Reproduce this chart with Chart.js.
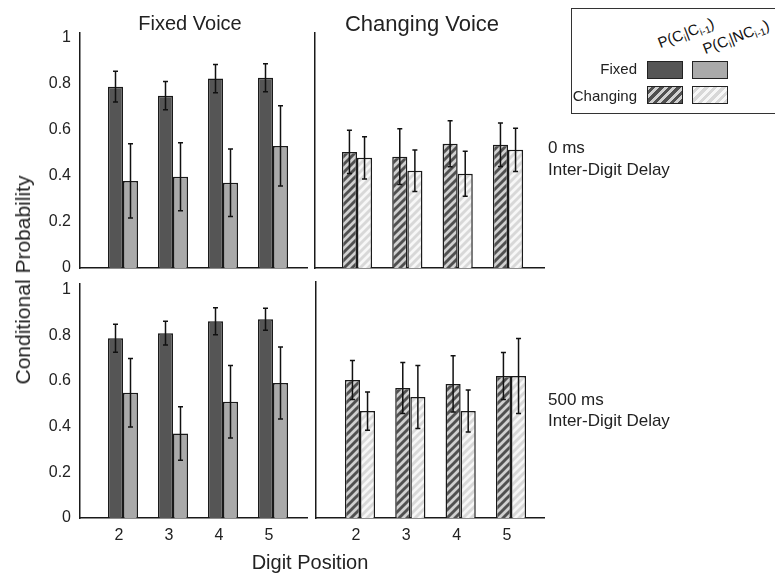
<!DOCTYPE html>
<html>
<head>
<meta charset="utf-8">
<script src="https://cdn.jsdelivr.net/npm/chart.js@4/dist/chart.umd.min.js"></script>
<style>
    body { margin: 0; background: #fff; }
    #page { position: relative; width: 775px; height: 576px; overflow: hidden; font-family: "Liberation Sans", Arial, sans-serif; color: #222; }
    canvas { position: absolute; }
    .txt { position: absolute; white-space: nowrap; }
    .swatch { position: absolute; width: 34px; height: 16px; border: 1.5px solid #222; }
    #legend { position: absolute; left: 571px; top: 8px; width: 220px; height: 104px; border: 1px solid #333; }
    .rot { position: absolute; font-size: 15px; color: #111; transform-origin: 0 100%; transform: rotate(-21deg); white-space: nowrap; }
    .rot sub { font-size: 10px; vertical-align: -3px; }
</style>
</head>
<body>
<div id="page">
    <canvas id="top-left" width="320" height="290" style="left:0;top:0"></canvas>
    <canvas id="top-right" width="260" height="290" style="left:300px;top:0"></canvas>
    <canvas id="bottom-left" width="320" height="311" style="left:0;top:265px"></canvas>
    <canvas id="bottom-right" width="260" height="311" style="left:300px;top:265px"></canvas>

    <div class="txt" style="left:190px;top:12px;font-size:20px;transform:translateX(-50%)">Fixed Voice</div>
    <div class="txt" style="left:422px;top:11px;font-size:22px;transform:translateX(-50%)">Changing Voice</div>
    <div class="txt" style="left:23px;top:280px;font-size:21px;transform:translate(-50%,-50%) rotate(-90deg)">Conditional Probability</div>
    <div class="txt" style="left:310px;top:551px;font-size:20px;transform:translateX(-50%)">Digit Position</div>
    <div class="txt" style="left:548px;top:138px;font-size:17px">0 ms</div>
    <div class="txt" style="left:548px;top:160px;font-size:17px">Inter-Digit Delay</div>
    <div class="txt" style="left:548px;top:390px;font-size:17px">500 ms</div>
    <div class="txt" style="left:548px;top:411px;font-size:17px">Inter-Digit Delay</div>

    <div id="legend"></div>
    <div class="rot" style="left:662px;top:34px">P(C<sub>i</sub>|C<sub>i-1</sub>)</div>
    <div class="rot" style="left:707px;top:40px">P(C<sub>i</sub>|NC<sub>i-1</sub>)</div>
    <div class="txt" style="right:138px;top:60px;font-size:15px">Fixed</div>
    <div class="txt" style="right:138px;top:87px;font-size:15px">Changing</div>
    <div class="swatch" style="left:647px;top:61px;background:#555"></div>
    <div class="swatch" style="left:692px;top:61px;background:#aaa"></div>
    <div class="swatch" style="left:647px;top:86px;background:repeating-linear-gradient(-45deg,#505050 0 3px,#d0d0d0 3px 6px)"></div>
    <div class="swatch" style="left:692px;top:86px;background:repeating-linear-gradient(-45deg,#d8d8d8 0 3px,#f7f7f7 3px 6px)"></div>
</div>

<script>
const DIGITS = [2, 3, 4, 5];
const Y_TICKS = [0, 0.2, 0.4, 0.6, 0.8, 1];

// 0 ms inter-digit delay
const FIX0_CC = [0.787, 0.748, 0.822, 0.826];
const FIX0_CC_ERR = [0.067, 0.061, 0.061, 0.061];
const FIX0_NC = [0.378, 0.396, 0.370, 0.530];
const FIX0_NC_ERR = [0.161, 0.148, 0.146, 0.174];
const CHG0_CC = [0.504, 0.483, 0.539, 0.535];
const CHG0_CC_ERR = [0.094, 0.121, 0.100, 0.094];
const CHG0_NC = [0.478, 0.422, 0.409, 0.513];
const CHG0_NC_ERR = [0.092, 0.090, 0.098, 0.094];

// 500 ms inter-digit delay
const FIX500_CC = [0.787, 0.809, 0.861, 0.870];
const FIX500_CC_ERR = [0.061, 0.052, 0.059, 0.048];
const FIX500_NC = [0.548, 0.370, 0.509, 0.591];
const FIX500_NC_ERR = [0.150, 0.117, 0.159, 0.158];
const CHG500_CC = [0.600, 0.565, 0.583, 0.617];
const CHG500_CC_ERR = [0.085, 0.111, 0.122, 0.102];
const CHG500_NC = [0.465, 0.526, 0.465, 0.617];
const CHG500_NC_ERR = [0.083, 0.137, 0.091, 0.163];

const FONTCOLOR = "#222";
const DARK = "#555";
const LIGHT = "#aaa";

Chart.defaults.font.family = '"Liberation Sans", Arial, sans-serif';
Chart.defaults.color = FONTCOLOR;

const errorBars = {
    id: "errorBars",
    afterDatasetsDraw(chart) {
        const ctx = chart.ctx;
        const y = chart.scales.y;
        ctx.save();
        ctx.strokeStyle = "#111";
        ctx.lineWidth = 1.5;
        chart.data.datasets.forEach((ds, di) => {
            chart.getDatasetMeta(di).data.forEach((bar, i) => {
                const v = ds.data[i].y;
                const e = ds.errors[i];
                const top = y.getPixelForValue(v + e);
                const bot = y.getPixelForValue(v - e);
                ctx.beginPath();
                ctx.moveTo(bar.x, top); ctx.lineTo(bar.x, bot);
                ctx.moveTo(bar.x - 2.5, top); ctx.lineTo(bar.x + 2.5, top);
                ctx.moveTo(bar.x - 2.5, bot); ctx.lineTo(bar.x + 2.5, bot);
                ctx.stroke();
            });
        });
        ctx.restore();
    }
};

function makeHatch(bg, fg) {
    const tile = document.createElement("canvas");
    tile.width = 8;
    tile.height = 8;
    const t = tile.getContext("2d");
    t.fillStyle = bg;
    t.fillRect(0, 0, 8, 8);
    t.strokeStyle = fg;
    t.lineWidth = 2.9;
    t.beginPath();
    t.moveTo(-4, 4); t.lineTo(4, -4);
    t.moveTo(0, 8); t.lineTo(8, 0);
    t.moveTo(4, 12); t.lineTo(12, 4);
    t.stroke();
    return t.createPattern(tile, "repeat");
}

function toPoints(values) {
    return DIGITS.map((d, i) => ({x: d, y: values[i]}));
}

function makePanel(id, p) {
    const ctx = document.querySelector("#" + id).getContext("2d");
    const configuration = {
        type: "bar",
        data: {
            datasets: [{
                data: toPoints(p.cc),
                errors: p.ccErr,
                backgroundColor: p.ccColor,
                borderColor: "#1a1a1a",
                borderWidth: 1.5
            }, {
                data: toPoints(p.nc),
                errors: p.ncErr,
                backgroundColor: p.ncColor,
                borderColor: "#1a1a1a",
                borderWidth: 1.5
            }]
        },
        options: {
            responsive: false,
            animation: false,
            categoryPercentage: 0.6,
            barPercentage: 1,
            layout: {
                padding: {top: p.padTop, right: p.padRight, left: 0, bottom: 0}
            },
            scales: {
                x: {
                    type: "linear",
                    offset: false,
                    min: p.xMin,
                    max: p.xMax,
                    afterBuildTicks: s => { s.ticks = DIGITS.map(v => ({value: v})); },
                    afterFit: s => { s.height = p.xHeight; },
                    grid: {display: false, drawTicks: false},
                    border: {display: true, color: "#1a1a1a", width: 1.5},
                    ticks: {
                        display: p.showX,
                        font: {size: 16},
                        padding: 8,
                        labelOffset: -4,
                        maxRotation: 0
                    }
                },
                y: {
                    min: 0,
                    max: p.yMax,
                    afterBuildTicks: s => { s.ticks = Y_TICKS.map(v => ({value: v})); },
                    afterFit: s => { s.width = p.yWidth; },
                    grid: {display: false, drawTicks: false},
                    border: {display: true, color: "#1a1a1a", width: 1.5},
                    ticks: {
                        display: p.showY,
                        font: {size: 16},
                        padding: 9,
                        callback: value => String(Math.round(value * 10) / 10)
                    }
                }
            },
            plugins: {
                legend: {display: false},
                tooltip: {enabled: false}
            }
        },
        plugins: [errorBars]
    };
    new Chart(ctx, configuration);
}

const hatchDark = makeHatch("#d0d0d0", "#505050");
const hatchLight = makeHatch("#f7f7f7", "#d8d8d8");

makePanel("top-left", {
    cc: FIX0_CC, ccErr: FIX0_CC_ERR, nc: FIX0_NC, ncErr: FIX0_NC_ERR,
    ccColor: DARK, ncColor: LIGHT,
    xMin: 1.14, xMax: 5.68, yMax: 1.02,
    padTop: 33, padRight: 13, xHeight: 22, yWidth: 80, showX: false, showY: true
});
makePanel("top-right", {
    cc: CHG0_CC, ccErr: CHG0_CC_ERR, nc: CHG0_NC, ncErr: CHG0_NC_ERR,
    ccColor: hatchDark, ncColor: hatchLight,
    xMin: 1.166, xMax: 5.715, yMax: 1.02,
    padTop: 33, padRight: 16, xHeight: 22, yWidth: 15, showX: false, showY: false
});
makePanel("bottom-left", {
    cc: FIX500_CC, ccErr: FIX500_CC_ERR, nc: FIX500_NC, ncErr: FIX500_NC_ERR,
    ccColor: DARK, ncColor: LIGHT,
    xMin: 1.14, xMax: 5.68, yMax: 1.026,
    padTop: 17, padRight: 13, xHeight: 58, yWidth: 80, showX: true, showY: true
});
makePanel("bottom-right", {
    cc: CHG500_CC, ccErr: CHG500_CC_ERR, nc: CHG500_NC, ncErr: CHG500_NC_ERR,
    ccColor: hatchDark, ncColor: hatchLight,
    xMin: 1.126, xMax: 5.656, yMax: 1.026,
    padTop: 17, padRight: 16, xHeight: 58, yWidth: 16, showX: true, showY: false
});
</script>
</body>
</html>
